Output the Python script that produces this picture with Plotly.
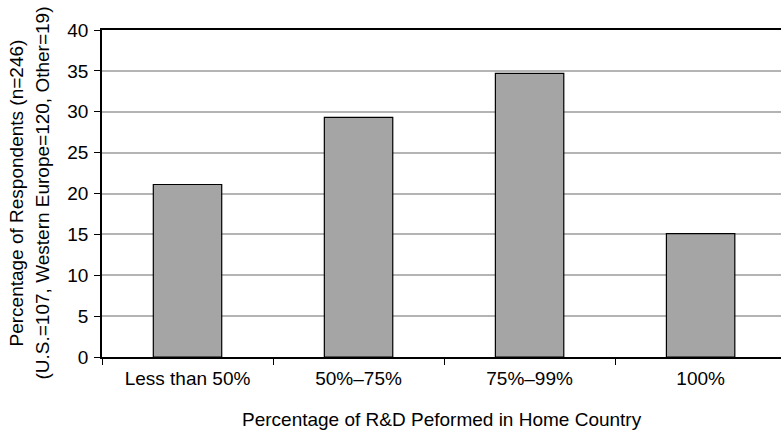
import plotly.graph_objects as go

# Survey results: share of respondents by R&D performed in home country
categories = ["Less than 50%", "50%\u201375%", "75%\u201399%", "100%"]
percentages = [21.1, 29.3, 34.7, 15.1]
y_ticks = [0, 5, 10, 15, 20, 25, 30, 35, 40]

FONT = "Liberation Sans, Arial, Helvetica, sans-serif"
FS = 19
W, H = 781, 432
ML, MR, MT, MB = 102, 0, 30, 75

fig = go.Figure(
    go.Bar(
        x=categories,
        y=percentages,
        width=0.4,
        marker=dict(color="#a5a5a5", line=dict(color="#000000", width=1.2)),
        hoverinfo="x+y",
    )
)

fig.update_layout(
    width=W,
    height=H,
    margin=dict(l=ML, r=MR, t=MT, b=MB, autoexpand=False),
    paper_bgcolor="white",
    plot_bgcolor="white",
    font=dict(family=FONT, size=FS, color="#000000"),
    showlegend=False,
)

fig.update_xaxes(
    type="category",
    range=[-0.5, 3.47],
    showline=True,
    linecolor="#000000",
    linewidth=1.5,
    mirror=True,
    ticks="outside",
    tickson="boundaries",
    ticklen=6,
    tickcolor="#000000",
    tickwidth=1,
    ticklabelstandoff=3,
    showgrid=False,
    tickfont=dict(family=FONT, size=FS),
)

fig.update_yaxes(
    range=[0, 40],
    tickvals=y_ticks,
    showline=True,
    linecolor="#000000",
    linewidth=1.5,
    ticks="outside",
    ticklen=6,
    tickcolor="#000000",
    tickwidth=1,
    ticklabelstandoff=2,
    showgrid=True,
    gridcolor="#b4b4b4",
    gridwidth=1.5,
    zeroline=False,
    tickfont=dict(family=FONT, size=FS),
)

pw = W - ML - MR
ph = H - MT - MB
yc = (H - MB - 193.5) / ph

# Two-line vertical axis title
for line, px in [("Percentage of Respondents (n=246)", 16),
                 ("(U.S.=107, Western Europe=120, Other=19)", 42)]:
    fig.add_annotation(
        text=line,
        xref="paper", yref="paper",
        x=(px - ML) / pw, y=yc,
        textangle=-90,
        showarrow=False,
        font=dict(family=FONT, size=FS),
        xanchor="center", yanchor="middle",
    )

fig.add_annotation(
    text="Percentage of R&D Peformed in Home Country",
    xref="paper", yref="paper",
    x=(441.5 - ML) / pw, y=-(419 - (H - MB)) / ph,
    showarrow=False,
    font=dict(family=FONT, size=FS),
    xanchor="center", yanchor="middle",
)

fig.write_html("out.html")
